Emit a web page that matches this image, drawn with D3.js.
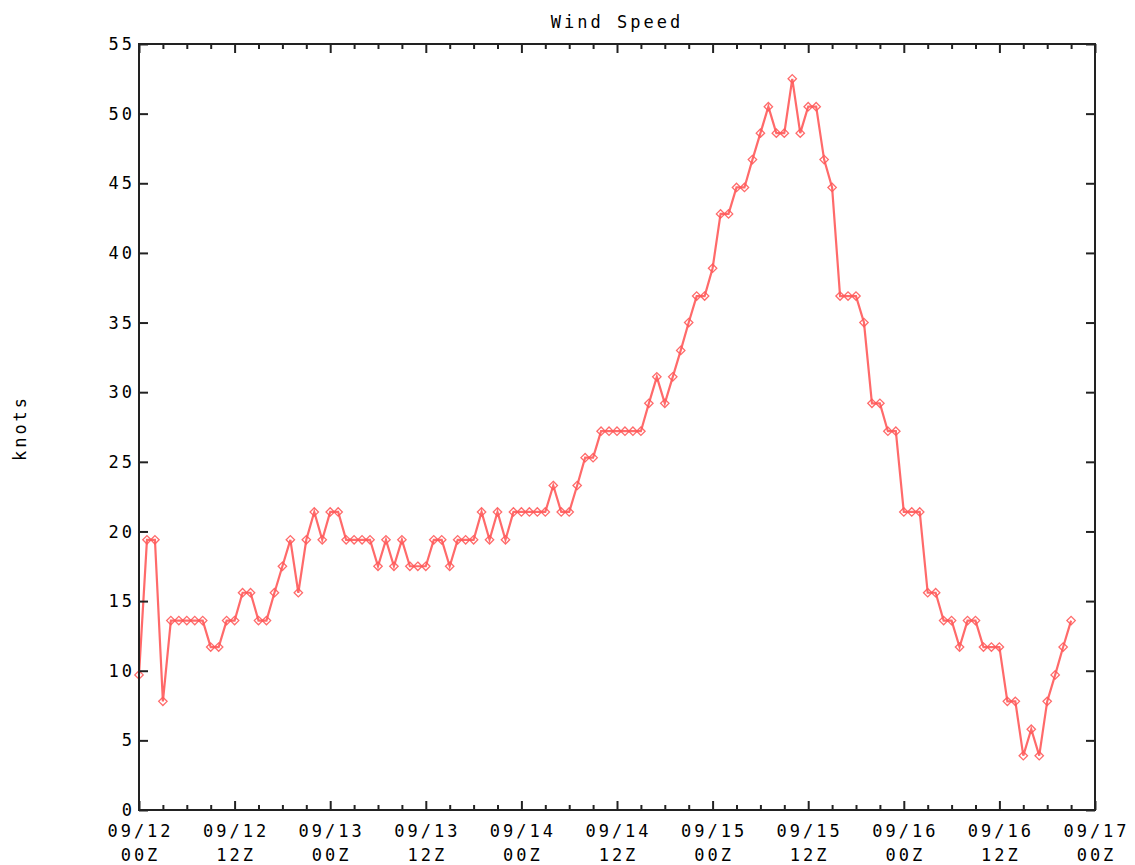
<!DOCTYPE html>
<html>
<head>
<meta charset="utf-8">
<script src="https://cdn.jsdelivr.net/npm/d3@7"></script>
<style>
  html, body { margin: 0; padding: 0; background: #fff; }
  svg text { font-family: "DejaVu Sans Mono", monospace; font-size: 17px; fill: #000; letter-spacing: 3px; }
</style>
</head>
<body>
<svg id="chart" width="1135" height="865"></svg>
<script>
// Hours since 09/12 00Z
const hours = d3.range(0, 118);
// Wind speed (knots), one value per hour
const windSpeed = [
  9.7, 19.4, 19.4, 7.8, 13.6, 13.6, 13.6, 13.6, 13.6, 11.7, 11.7, 13.6,
  13.6, 15.6, 15.6, 13.6, 13.6, 15.6, 17.5, 19.4, 15.6, 19.4, 21.4, 19.4,
  21.4, 21.4, 19.4, 19.4, 19.4, 19.4, 17.5, 19.4, 17.5, 19.4, 17.5, 17.5,
  17.5, 19.4, 19.4, 17.5, 19.4, 19.4, 19.4, 21.4, 19.4, 21.4, 19.4, 21.4,
  21.4, 21.4, 21.4, 21.4, 23.3, 21.4, 21.4, 23.3, 25.3, 25.3, 27.2, 27.2,
  27.2, 27.2, 27.2, 27.2, 29.2, 31.1, 29.2, 31.1, 33.0, 35.0, 36.9, 36.9,
  38.9, 42.8, 42.8, 44.7, 44.7, 46.7, 48.6, 50.5, 48.6, 48.6, 52.5, 48.6,
  50.5, 50.5, 46.7, 44.7, 36.9, 36.9, 36.9, 35.0, 29.2, 29.2, 27.2, 27.2,
  21.4, 21.4, 21.4, 15.6, 15.6, 13.6, 13.6, 11.7, 13.6, 13.6, 11.7, 11.7,
  11.7, 7.8, 7.8, 3.9, 5.8, 3.9, 7.8, 9.7, 11.7, 13.6
];
const yTicks = [0, 5, 10, 15, 20, 25, 30, 35, 40, 45, 50, 55];
const xMajorTicks = [0, 12, 24, 36, 48, 60, 72, 84, 96, 108, 120];
const xTickLabels = [
  ["09/12", "00Z"], ["09/12", "12Z"], ["09/13", "00Z"], ["09/13", "12Z"],
  ["09/14", "00Z"], ["09/14", "12Z"], ["09/15", "00Z"], ["09/15", "12Z"],
  ["09/16", "00Z"], ["09/16", "12Z"], ["09/17", "00Z"]
];
const xMinorTicks = d3.range(0, 121, 3).filter(h => h % 12 !== 0);

const pL = 139, pR = 1095, pT = 44, pB = 810;
const svg = d3.select("#chart");
const x = d3.scaleLinear().domain([0, 120]).range([pL, pR]);
const y = d3.scaleLinear().domain([0, 55]).range([pB, pT]);

const lineColor = "#ff5a5a";

// data line
const line = d3.line().x((d, i) => x(hours[i])).y(d => y(d));
svg.append("path")
  .datum(windSpeed)
  .attr("d", line)
  .attr("fill", "none")
  .attr("stroke", lineColor)
  .attr("stroke-width", 2.2)
  .attr("opacity", 0.9);

// diamond markers
const dsz = 4.2;
svg.append("g").selectAll("path")
  .data(windSpeed)
  .join("path")
  .attr("transform", (d, i) => `translate(${x(hours[i])},${y(d)})`)
  .attr("d", `M0,${-dsz}L${dsz},0L0,${dsz}L${-dsz},0Z`)
  .attr("fill", "none")
  .attr("stroke", lineColor)
  .attr("stroke-width", 1.3)
  .attr("opacity", 0.9);

// frame
const axisColor = "#222";
svg.append("rect")
  .attr("x", pL).attr("y", pT)
  .attr("width", pR - pL).attr("height", pB - pT)
  .attr("fill", "none").attr("stroke", axisColor).attr("stroke-width", 2);

// y axes (inward ticks on both sides)
const yAxisL = d3.axisRight(y).tickValues(yTicks).tickSize(9).tickFormat("");
const gyl = svg.append("g").attr("transform", `translate(${pL},0)`).call(yAxisL);
const yAxisR = d3.axisLeft(y).tickValues(yTicks).tickSize(9).tickFormat("");
const gyr = svg.append("g").attr("transform", `translate(${pR},0)`).call(yAxisR);
[gyl, gyr].forEach(g => {
  g.select(".domain").remove();
  g.selectAll("line").attr("stroke", axisColor).attr("stroke-width", 2);
});
svg.append("g").selectAll("text")
  .data(yTicks)
  .join("text")
  .attr("x", 135)
  .attr("y", d => y(d))
  .attr("dy", "0.36em")
  .attr("text-anchor", "end")
  .text(d => d);

// x axes major/minor ticks, bottom and top, inward
function xTicks(vals, size) {
  const b = d3.axisTop(x).tickValues(vals).tickSize(size).tickFormat("");
  const gb = svg.append("g").attr("transform", `translate(0,${pB})`).call(b);
  const t = d3.axisBottom(x).tickValues(vals).tickSize(size).tickFormat("");
  const gt = svg.append("g").attr("transform", `translate(0,${pT})`).call(t);
  [gb, gt].forEach(g => {
    g.select(".domain").remove();
    g.selectAll("line").attr("stroke", axisColor).attr("stroke-width", 2);
  });
}
xTicks(xMajorTicks, 9);
xTicks(xMinorTicks, 5);

const xl = svg.append("g").selectAll("g")
  .data(xMajorTicks)
  .join("g")
  .attr("transform", d => `translate(${x(d) + 1.5},0)`);
xl.append("text").attr("y", 837).attr("text-anchor", "middle").text((d, i) => xTickLabels[i][0]);
xl.append("text").attr("y", 861).attr("text-anchor", "middle").text((d, i) => xTickLabels[i][1]);

// title
svg.append("text")
  .attr("x", 617)
  .attr("y", 28)
  .attr("text-anchor", "middle")
  .text("Wind Speed");

// y label
svg.append("text")
  .attr("transform", "translate(26,428) rotate(-90)")
  .attr("text-anchor", "middle")
  .text("knots");
</script>
</body>
</html>
